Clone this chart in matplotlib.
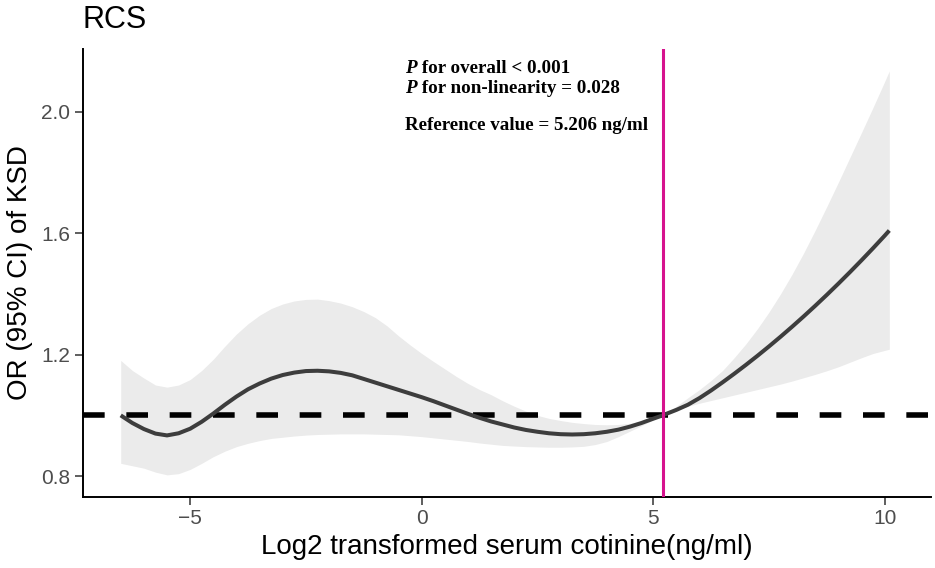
import matplotlib
matplotlib.use('Agg')
import matplotlib.pyplot as plt

# log2 cotinine grid, spline OR and its 95% CI
x_vals = [-6.5, -6.25, -6.0, -5.75, -5.5, -5.25, -5.0, -4.75, -4.5, -4.25,
          -4.0, -3.75, -3.5, -3.25, -3.0, -2.75, -2.5, -2.25, -2.0, -1.75,
          -1.5, -1.25, -1.0, -0.75, -0.5, -0.25, 0.0, 0.25, 0.5, 0.75,
          1.0, 1.25, 1.5, 1.75, 2.0, 2.25, 2.5, 2.75, 3.0, 3.25,
          3.5, 3.75, 4.0, 4.25, 4.5, 4.75, 5.0, 5.206, 5.25, 5.5,
          5.75, 6.0, 6.25, 6.5, 6.75, 7.0, 7.25, 7.5, 7.75, 8.0,
          8.25, 8.5, 8.75, 9.0, 9.25, 9.5, 9.75, 10.0, 10.1]
or_vals = [1.000, 0.975, 0.955, 0.940, 0.934, 0.941, 0.956, 0.979, 1.006, 1.035,
           1.062, 1.086, 1.105, 1.121, 1.133, 1.141, 1.146, 1.147, 1.145, 1.140,
           1.132, 1.120, 1.108, 1.096, 1.084, 1.072, 1.060, 1.047, 1.033, 1.019,
           1.005, 0.992, 0.980, 0.970, 0.960, 0.952, 0.946, 0.941, 0.938, 0.937,
           0.938, 0.941, 0.946, 0.953, 0.963, 0.975, 0.989, 1.000, 1.003, 1.018,
           1.035, 1.057, 1.082, 1.109, 1.137, 1.166, 1.196, 1.227, 1.259, 1.292,
           1.326, 1.361, 1.397, 1.434, 1.472, 1.511, 1.551, 1.592, 1.609]
upper_vals = [1.181, 1.148, 1.123, 1.100, 1.093, 1.100, 1.118, 1.148, 1.185, 1.228,
              1.268, 1.302, 1.330, 1.352, 1.367, 1.377, 1.382, 1.383, 1.378, 1.370,
              1.358, 1.342, 1.322, 1.295, 1.262, 1.232, 1.204, 1.178, 1.153, 1.128,
              1.105, 1.085, 1.068, 1.048, 1.030, 1.014, 1.000, 0.990, 0.983, 0.977,
              0.973, 0.970, 0.969, 0.970, 0.974, 0.981, 0.991, 1.000, 1.004, 1.030,
              1.058, 1.085, 1.115, 1.148, 1.190, 1.235, 1.285, 1.340, 1.400, 1.465,
              1.535, 1.610, 1.688, 1.768, 1.850, 1.932, 2.015, 2.100, 2.135]
lower_vals = [0.842, 0.834, 0.826, 0.813, 0.804, 0.808, 0.822, 0.842, 0.864, 0.882,
              0.897, 0.908, 0.917, 0.924, 0.928, 0.932, 0.935, 0.937, 0.938, 0.939,
              0.939, 0.939, 0.938, 0.937, 0.936, 0.933, 0.930, 0.926, 0.922, 0.918,
              0.914, 0.909, 0.905, 0.901, 0.899, 0.897, 0.896, 0.895, 0.895, 0.896,
              0.898, 0.904, 0.914, 0.930, 0.948, 0.966, 0.985, 1.000, 1.002, 1.017,
              1.030, 1.040, 1.049, 1.058, 1.067, 1.076, 1.085, 1.094, 1.103, 1.113,
              1.124, 1.135, 1.147, 1.160, 1.175, 1.190, 1.204, 1.214, 1.218]

ref_value = 5.206
x_ticks = [-5, 0, 5, 10]
x_ticklabels = ['\u22125', '0', '5', '10']
y_ticks = [0.8, 1.2, 1.6, 2.0]
y_ticklabels = ['0.8', '1.2', '1.6', '2.0']

plt.rcParams['font.family'] = ['Liberation Sans', 'DejaVu Sans']

fig = plt.figure(figsize=(9.35, 5.68), dpi=100)
ax = fig.add_axes([0.0885, 0.1255, 0.9072, 0.7882])

ax.fill_between(x_vals, lower_vals, upper_vals, color='#ebebeb', linewidth=0, zorder=1)
ax.axhline(1.0, color='black', linewidth=4, linestyle=(0, (3.9, 3.9)), zorder=2)
ax.plot(x_vals, or_vals, color='#3d3d3d', linewidth=2.9, solid_capstyle='butt', zorder=3)
ax.axvline(ref_value, color='#d6128e', linewidth=2.2, zorder=4)

ax.set_xlim(-7.32, 11.0)
ax.set_ylim(0.732, 2.207)
ax.set_xticks(x_ticks)
ax.set_xticklabels(x_ticklabels)
ax.set_yticks(y_ticks)
ax.set_yticklabels(y_ticklabels)

for side in ['top', 'right']:
    ax.spines[side].set_visible(False)
for side in ['left', 'bottom']:
    ax.spines[side].set_linewidth(1.4)
ax.tick_params(axis='both', length=5.5, width=1.1, color='#333333', labelsize=15,
               labelcolor='#4d4d4d', pad=3.5)

ax.set_xlabel('Log2 transformed serum cotinine(ng/ml)', fontsize=20, labelpad=4)
ax.set_ylabel('OR (95% CI) of KSD', fontsize=20, labelpad=6)
ax.set_title('RCS', fontsize=22, loc='left', pad=15)

# annotation in bold serif with italic P
serif = 'Liberation Serif'
tsize = 13.7
lines = [(2.1275, 'P', ' for overall < 0.001'),
         (2.0616, 'P', ' for non-linearity = 0.028')]
for yy, lead, rest in lines:
    t = ax.text(-0.36, yy, lead, family=serif, fontsize=tsize, fontweight='bold',
                fontstyle='italic', va='baseline')
    ax.annotate(rest, xy=(1, 0), xycoords=t, family=serif, fontsize=tsize,
                fontweight='bold', va='bottom')
ax.text(-0.36, 1.9407, 'Reference value = 5.206 ng/ml', family=serif, fontsize=tsize,
        fontweight='bold', va='baseline')

fig.savefig('out.png', dpi=100)
